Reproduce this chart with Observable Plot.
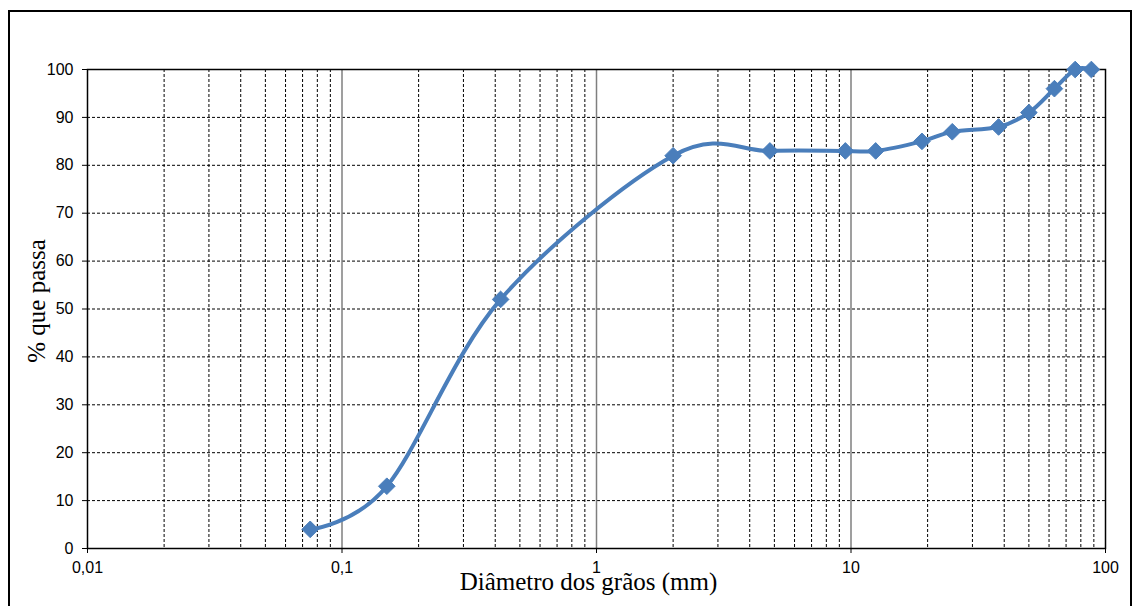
<!DOCTYPE html>
<html>
<head>
<meta charset="utf-8">
<script src="https://cdn.jsdelivr.net/npm/d3@7"></script>
<script src="https://cdn.jsdelivr.net/npm/@observablehq/plot@0.6"></script>
<style>
  html, body { margin: 0; padding: 0; background: #fff; }
  #chart { position: relative; width: 1134px; height: 606px; overflow: hidden; }
</style>
</head>
<body>
<div id="chart"></div>
<script>
// Data: sieve diameters (mm) and % passing
const diameters = [0.075, 0.15, 0.42, 2.0, 4.8, 9.5, 12.5, 19, 25, 38, 50, 63, 76, 88];
const passing   = [4, 13, 52, 82, 83, 83, 83, 85, 87, 88, 91, 96, 100, 100];
const xTicks = [0.01, 0.1, 1, 10, 100];
const yTicks = [0, 10, 20, 30, 40, 50, 60, 70, 80, 90, 100];
const xTitle = "Diâmetro dos grãos (mm)";
const yTitle = "% que passa";

const data = diameters.map((d, i) => ({d, p: passing[i]}));
const majors = [0.1, 1, 10];
const minors = [];
for (const base of [0.01, 0.1, 1, 10]) for (let k = 2; k <= 9; k++) minors.push(+(base * k).toPrecision(3));
const hLines = yTicks.filter(v => v > 0 && v < 100);

const blue = "#4a7ebb";

const chart = Plot.plot({
  width: 1134,
  height: 606,
  marginLeft: 87,
  marginRight: 29,
  marginTop: 69,
  marginBottom: 58,
  style: {fontFamily: "'Liberation Sans', Arial, sans-serif", fontSize: "16px", color: "#000", background: "#fff"},
  x: {type: "log", domain: [0.01, 100]},
  y: {domain: [0, 100]},
  marks: [
    Plot.ruleX(minors, {stroke: "#000", strokeWidth: 1, strokeDasharray: "3,2"}),
    Plot.ruleY(hLines, {stroke: "#000", strokeWidth: 1, strokeDasharray: "3,2"}),
    Plot.ruleX(majors, {stroke: "#7f7f7f", strokeWidth: 1.5}),
    Plot.frame({stroke: "#000", strokeWidth: 1.5}),
    Plot.axisX({ticks: xTicks, tickFormat: d => String(d).replace(".", ","), tickSize: 5, tickPadding: 8, label: null, fontSize: 16}),
    Plot.axisY({ticks: yTicks, tickFormat: d => String(d), tickSize: 5, tickPadding: 9, label: null, fontSize: 16}),
    Plot.line(data, {x: "d", y: "p", stroke: blue, strokeWidth: 4, curve: "cardinal"}),
    Plot.dot(data, {x: "d", y: "p", symbol: "diamond2", r: 7.5, fill: blue, stroke: blue, strokeWidth: 1}),
    Plot.text([xTitle], {frameAnchor: "bottom", dx: -8, dy: 41, text: d => d, fontFamily: "'Liberation Serif', 'Times New Roman', serif", fontSize: 25, fill: "#000"}),
    Plot.text([yTitle], {frameAnchor: "left", textAnchor: "middle", dx: -51, dy: -8, rotate: -90, text: d => d, fontFamily: "'Liberation Serif', 'Times New Roman', serif", fontSize: 25, fill: "#000"})
  ]
});

document.getElementById("chart").appendChild(chart);

// make sure tick labels use the reference's size
d3.select(chart).selectAll('g[aria-label*="tick label"], g[aria-label*="tick label"] text')
  .style("font-size", "16px");

// outer chart border
d3.select(chart).append("rect")
  .attr("x", 9).attr("y", 11)
  .attr("width", 1122).attr("height", 610)
  .attr("fill", "none").attr("stroke", "#000").attr("stroke-width", 2);
</script>
</body>
</html>
